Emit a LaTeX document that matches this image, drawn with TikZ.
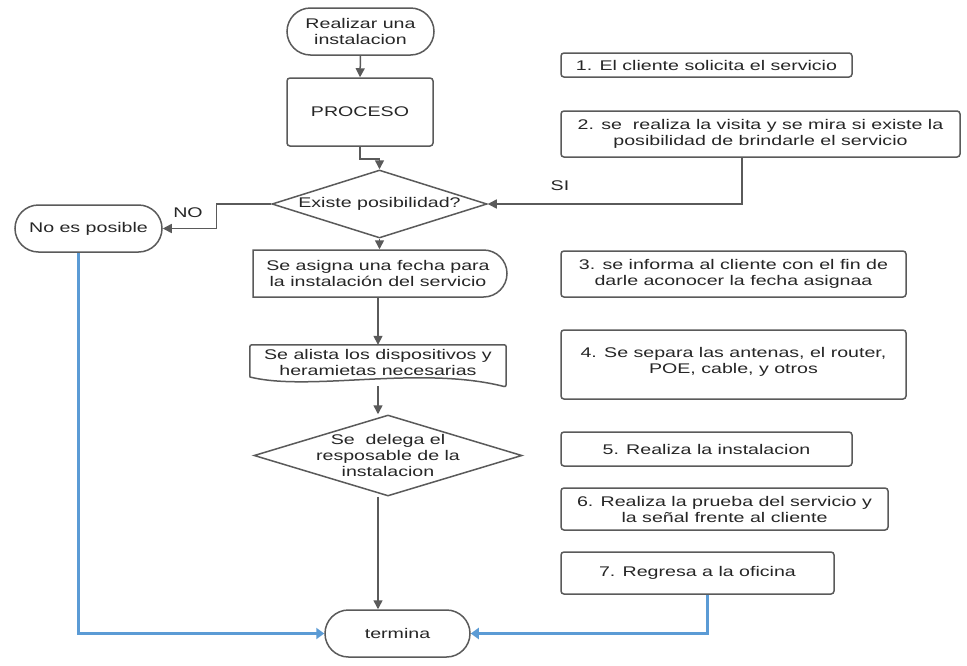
\documentclass[tikz,border=0pt]{standalone}
\usepackage{fontspec}
\setmainfont{Liberation Sans}[FakeStretch=1.4]
\usetikzlibrary{arrows.meta,shapes.geometric,shapes.misc}
\definecolor{lgray}{HTML}{5A5A5A}
\definecolor{tcol}{HTML}{262626}
\definecolor{lblue}{HTML}{5B9BD5}
\tikzset{
  shp/.style={draw=lgray, line width=1.5pt, fill=white, text=tcol, align=center, inner sep=0pt,
    font=\fontsize{14}{16}\selectfont},
  term/.style={shp, rectangle, rounded corners=23.5pt, minimum height=47pt},
  box/.style={shp, rectangle, rounded corners=3pt},
  dia/.style={shp, diamond},
  txt/.style={text=tcol, align=center, inner sep=0pt, font=\fontsize{14}{16}\selectfont},
  arr/.style={draw=lgray, line width=1.5pt, -{Triangle[length=9pt,width=9pt]}},
  barr/.style={draw=lblue, line width=3pt, -{Triangle[length=8pt,width=11pt]}},
}
\begin{document}
\begin{tikzpicture}[x=1pt,y=-1pt]
\useasboundingbox[fill=white] (0,0) rectangle (967,665);

% main column
\node[term, minimum width=147pt] (start) at (360.5,31.5) {Realizar una\\instalacion};
\node[box, minimum width=146pt, minimum height=68pt] (proc) at (360,112) {PROCESO};
\node[dia, minimum width=215pt, minimum height=68pt] (d1) at (379.5,204) {};
\node[txt] (d1t) at (d1.center) {Existe posibilidad?};
\node[term, minimum width=147pt] (nop) at (88.5,228.5) {No es posible};
\node[shp, rounded rectangle, rounded rectangle left arc=none, minimum width=254pt, minimum height=47pt] (asig) at (378,273.5) {Se asigna una fecha para\\la instalación del servicio};
\node[txt, minimum width=256pt, minimum height=38pt] (alista) at (378,364) {};
\draw[draw=lgray, line width=1.5pt, fill=white, rounded corners=2pt]
  (alista.north west) -- (alista.north east) -- (506,387) [sharp corners]
  .. controls (420,365) and (310,392) .. (250,377) [rounded corners=2pt] -- cycle;
\node[txt] (alistat) at (378,362) {Se alista los dispositivos y\\heramietas necesarias};
\node[dia, minimum width=268pt, minimum height=81pt] (d2) at (388,455.5) {};
\node[txt] (d2t) at (d2.center) {Se\ \ delega el\\resposable de la\\instalacion};
\node[term, minimum width=145pt] (term) at (397.5,633.5) {termina};

% right column
\node[box, minimum width=291pt, minimum height=24pt] (b1) at (706.5,65) {1. El cliente solicita el servicio};
\node[box, minimum width=399pt, minimum height=46pt] (b2) at (760.5,134) {2. se\ \ realiza la visita y se mira si existe la\\posibilidad de brindarle el servicio};
\node[box, minimum width=345pt, minimum height=46pt] (b3) at (733.5,274) {3. se informa al cliente con el fin de\\darle aconocer la fecha asignaa};
\node[box, minimum width=345pt, minimum height=69pt] (b4) at (733.5,364.5) {};
\node[txt] (b4t) at (733.5,362) {4. Se separa las antenas, el router,\\POE, cable, y otros};
\node[box, minimum width=291pt, minimum height=34pt] (b5) at (706.5,449) {5. Realiza la instalacion};
\node[box, minimum width=327pt, minimum height=42pt] (b6) at (724.5,509) {6. Realiza la prueba del servicio y\\la señal frente al cliente};
\node[box, minimum width=273pt, minimum height=42pt] (b7) at (697.5,573) {7. Regresa a la oficina};

% connectors
\draw[arr] (start.south) -- (proc.north);
\draw[arr] (proc.south) -- ++(0,12) -| (d1.north);
\draw[arr] (d1.west) -- ++(-55,0) |- (nop.east);
\node[txt] (nolab) at (188,213) {NO};
\draw[arr] ([xshift=-18.5pt]b2.south) |- (d1.east);
\node[txt] (silab) at (560,186) {SI};
\draw[arr] (d1.south) -- (d1.south |- asig.north);
\draw[arr] (asig.south) -- (asig.south |- alista.north);
\draw[arr] ([yshift=-3pt]alista.south) -- (alista.south |- d2.north);
\draw[arr] (alista.south |- d2.south) -- (alista.south |- term.north);
\draw[barr] ([xshift=-10.5pt]nop.south) |- (term.west);
\draw[barr] ([xshift=9.5pt]b7.south) |- (term.east);
\end{tikzpicture}
\end{document}
